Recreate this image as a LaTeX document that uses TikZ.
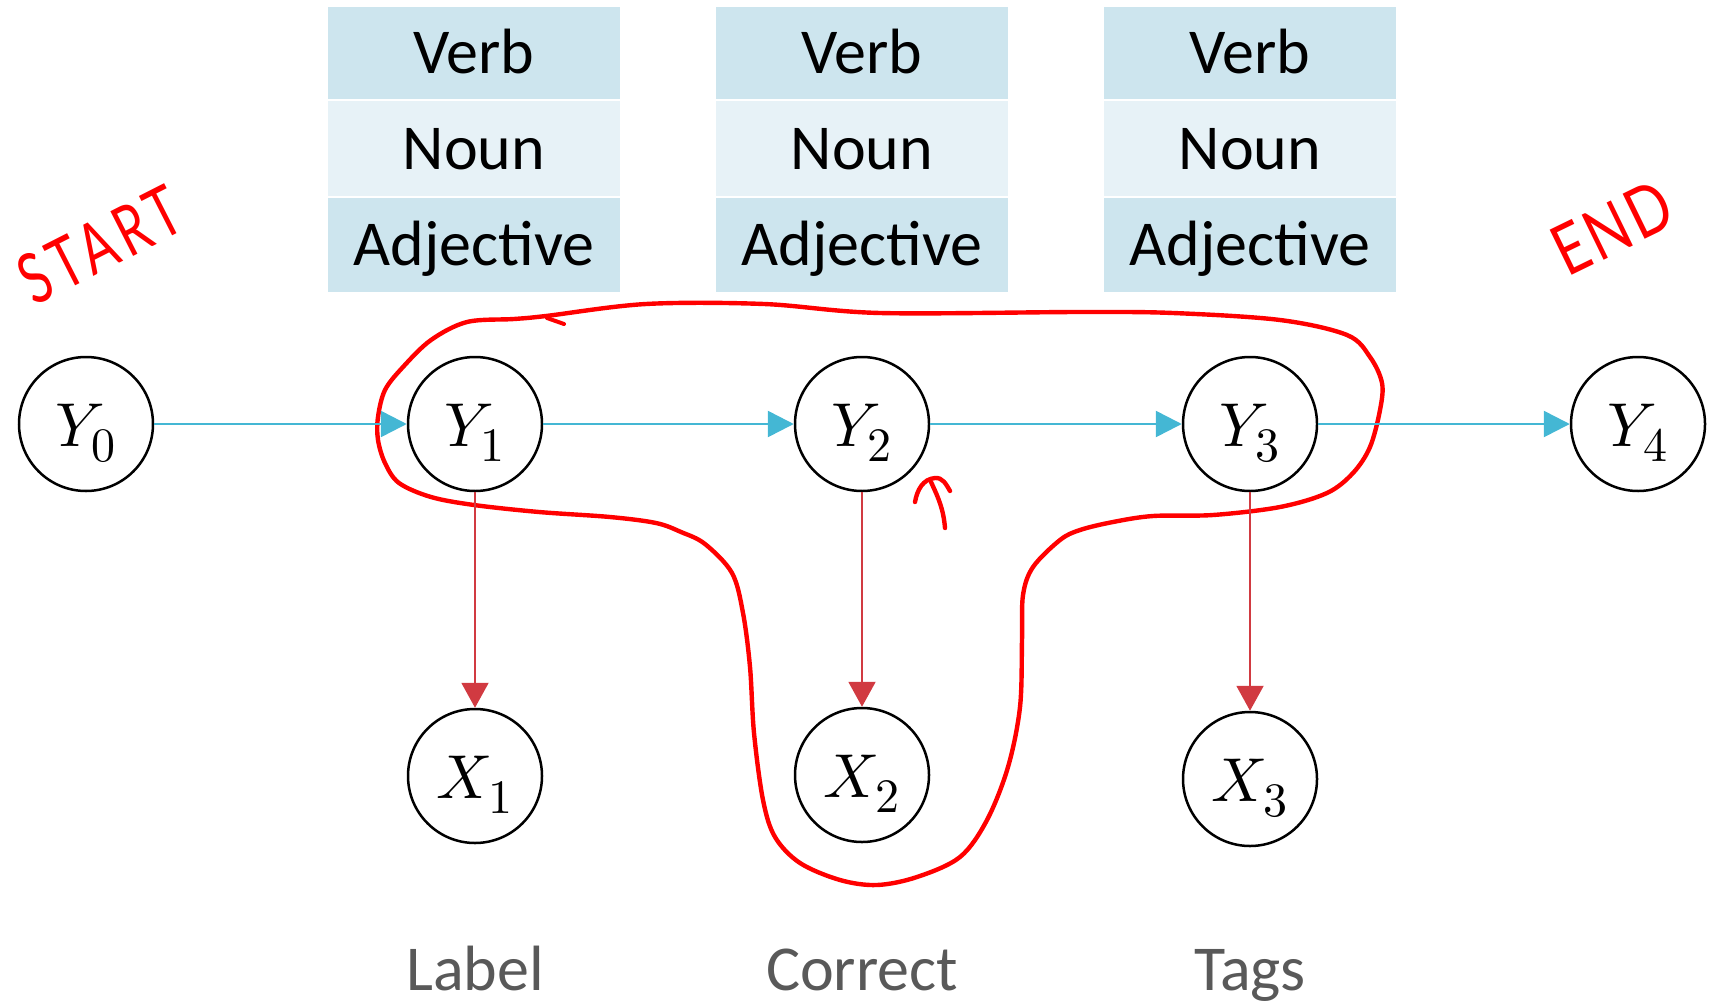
\documentclass[tikz,border=0pt]{standalone}
\usepackage{fontspec}
\usepackage{unicode-math}
\setmainfont{Carlito}
\setmathfont{Latin Modern Math}
\newfontfamily\handfont{Lato}
\usetikzlibrary{arrows.meta}
\definecolor{cyanarr}{HTML}{44B7D4}
\definecolor{redarr}{HTML}{D13A41}
\definecolor{rowdark}{HTML}{CDE5EE}
\definecolor{rowlight}{HTML}{E7F2F7}
\definecolor{labgray}{HTML}{595959}
\definecolor{inkred}{HTML}{FF0000}
\newcommand\bigsub[2]{$#1_{\text{\fontsize{24}{28}\selectfont$#2$}}$}
\begin{document}
\begin{tikzpicture}[x=0.5pt,y=-0.5pt,
  var/.style={circle,draw=black,line width=1.25pt,minimum size=67pt,inner sep=0pt,
    font=\fontsize{31}{36}\selectfont,text height=22pt,text depth=0pt},
  cellbase/.style={inner sep=0pt,minimum width=146pt,font=\fontsize{32}{38}\selectfont,
    text height=20.6pt,text depth=0pt},
  celldark/.style={cellbase,fill=rowdark},
  celllight/.style={cellbase,fill=rowlight},
  caption/.style={anchor=base,text=labgray,font=\fontsize{32}{38}\selectfont},
  transarrow/.style={draw=cyanarr,line width=1.3pt,-{Triangle[length=13pt,width=13pt]}},
  emitarrow/.style={draw=redarr,line width=1pt,-{Triangle[length=12.5pt,width=13.5pt]}},
  ink/.style={draw=inkred,line width=2.2pt,line cap=round,line join=round},
  handtext/.style={text=inkred,font=\handfont\fontsize{35}{40}\selectfont,inner sep=0pt}
]
\useasboundingbox (0,0) rectangle (1727,1006);

% tables
\foreach \cx/\t in {474/1,862/2,1250/3}{
  \node[celldark, minimum height=46pt] (t\t v) at (\cx,53) {Verb};
  \node[celllight, minimum height=47.5pt] (t\t n) at (\cx,148.5) {Noun};
  \node[celldark, minimum height=47pt] (t\t a) at (\cx,245) {Adjective};
}

% hand-drawn loop
\draw[ink] plot[smooth cycle, tension=0.55] coordinates {
 (467,322) (514,319) (546,316) (646,304) (764,304) (880,313) (1080,312) (1173,313)
 (1280,320) (1347,335) (1370,357) (1382,383) (1380,410) (1370,447) (1353,473)
 (1327,493) (1280,507) (1213,515) (1153,516) (1113,522) (1080,530) (1060,540)
 (1033,567) (1023,595) (1022,640) (1020,707) (1008,767) (987,820) (960,857)
 (917,877) (877,885) (840,880) (800,863) (775,837) (763,800) (754,733) (750,667)
 (743,613) (732,573) (705,544) (681,532) (656,523) (610,517) (539,512) (474,505)
 (431,497) (399,483) (385,463) (378,440) (378,417) (385,390) (403,367) (431,340)};
\draw[ink,line width=2pt] (547,318) -- (564,324);
\draw[ink,line width=2.2pt] (915,502) to[out=80,in=185] (935,478) to[out=5,in=120] (950,491);
\draw[ink,line width=2.2pt] (931,482) to[out=-65,in=95] (945,528);

% variables
\node[var] (y0) at (86,424) {\bigsub{Y}{0}};
\node[var] (y1) at (475,424) {\bigsub{Y}{1}};
\node[var] (y2) at (862,424) {\bigsub{Y}{2}};
\node[var] (y3) at (1250,424) {\bigsub{Y}{3}};
\node[var] (y4) at (1638,424) {\bigsub{Y}{4}};
\node[var] (x1) at (475,776) {\bigsub{X}{1}};
\node[var] (x2) at (862,775) {\bigsub{X}{2}};
\node[var] (x3) at (1250,779) {\bigsub{X}{3}};

\draw[transarrow] (y0) -- (y1);
\draw[transarrow] (y1) -- (y2);
\draw[transarrow] (y2) -- (y3);
\draw[transarrow] (y3) -- (y4);
\draw[emitarrow] (y1) -- (x1);
\draw[emitarrow] (y2) -- (x2);
\draw[emitarrow] (y3) -- (x3);

% captions
\node[caption] (c1) at (475,990) {Label};
\node[caption] (c2) at (862,990) {Correct};
\node[caption] (c3) at (1250,990) {Tags};

% handwritten START / END
\node[handtext,rotate=27] (start) at (100,245) {\scalebox{0.72}[1]{\addfontfeature{LetterSpace=12}START}};
\node[handtext,rotate=26] (end) at (1612,228) {\scalebox{0.8}[1]{\addfontfeature{LetterSpace=6}END}};
\end{tikzpicture}
\end{document}
